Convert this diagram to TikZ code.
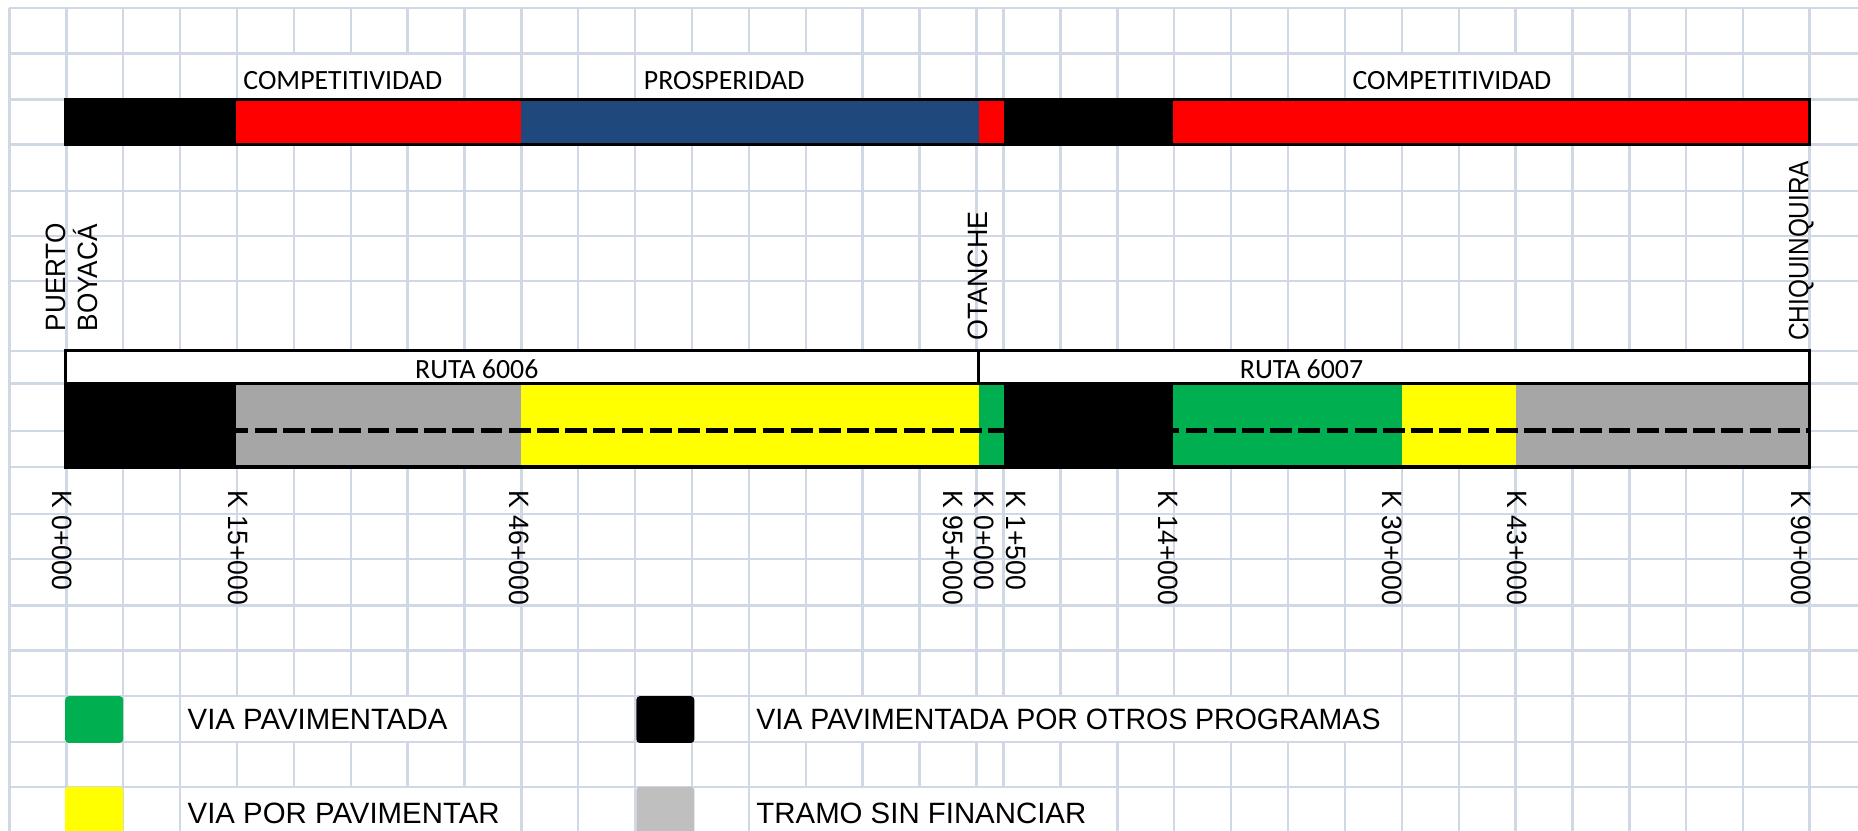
\documentclass[tikz,border=0pt]{standalone}
\usepackage{fontspec}
\setmainfont{Liberation Sans}
\newfontfamily\calfont{Carlito}
\definecolor{gridc}{RGB}{208,215,229}
\definecolor{rojo}{RGB}{255,0,0}
\definecolor{azul}{RGB}{31,73,125}
\definecolor{verde}{RGB}{0,176,80}
\definecolor{amarillo}{RGB}{255,255,0}
\definecolor{grisbar}{RGB}{166,166,166}
\definecolor{grisleg}{RGB}{191,191,191}
\newcommand{\narrowtext}[2]{\scalebox{#1}[1]{#2}}
\tikzset{
  gridline/.style={draw=gridc, line width=1pt},
  cover/.style={fill=white},
  barborder/.style={draw=black, line width=1.4pt},
  rutaborder/.style={draw=black, line width=1.25pt, fill=white},
  dashline/.style={draw=black, line width=2pt, dash pattern=on 9.2pt off 2.7pt, dash phase=3.85pt},
  toplab/.style={font=\calfont\fontsize{11.75}{13}\selectfont, inner sep=0pt, anchor=base west},
  placelab/.style={font=\fontsize{11.8}{13}\selectfont, inner sep=0pt, anchor=base west, rotate=90},
  klab/.style={font=\fontsize{11.8}{13}\selectfont, inner sep=0pt, anchor=base west, rotate=-90},
  leglab/.style={font=\fontsize{12.4}{14}\selectfont, inner sep=0pt, anchor=base west},
  legbox/.style={rounded corners=1.5pt},
}
\begin{document}
\begin{tikzpicture}[x=0.5pt,y=-0.5pt]
\useasboundingbox (0,0) rectangle (1568,701);
\fill[white] (0,0) rectangle (1568,701);
% grid
\foreach \x in {8,56,104,152,200,248,296,344,392,440,488,536,584,632,680,728,776,824,847,895,943,991,1039,1087,1135,1183,1231,1279,1327,1375,1423,1471,1527}
  \draw[gridline] (\x,7) -- (\x,701);
\foreach \y in {7,45,84,122,161,199,237,296,323.5,363.5,394,434,472,511,549,587.5,626,664}
  \draw[gridline] (8,\y) -- (1568,\y);
% white text cells
\fill[cover] (201,46) rectangle (391,83);
\fill[cover] (537,46) rectangle (727,83);
\fill[cover] (1136,46) rectangle (1326,83);
\fill[cover] (153,588.5) rectangle (391,625);
\fill[cover] (633,588.5) rectangle (1182,625);
\fill[cover] (153,665) rectangle (439,701);
\fill[cover] (633,665) rectangle (942,701);
% top bar
\fill[black] (55,84) rectangle (199,122);
\fill[rojo] (199,84) rectangle (440,122);
\fill[azul] (440,84) rectangle (826,122);
\fill[rojo] (826,84) rectangle (847,122);
\fill[black] (847,84) rectangle (990,122);
\fill[rojo] (990,84) rectangle (1527,122);
\draw[barborder] (55,84) rectangle (1527,122);
\node[toplab] (compA) at (205,75.5) {COMPETITIVIDAD};
\node[toplab] (prosp) at (543,75.5) {PROSPERIDAD};
\node[toplab] (compB) at (1141,75.5) {COMPETITIVIDAD};
% place names
\node[placelab] (puerto) at (55,280) {\narrowtext{0.935}{PUERTO}};
\node[placelab] (boyaca) at (82,280) {\narrowtext{0.935}{BOYACÁ}};
\node[placelab] (otanche) at (833,288) {\narrowtext{0.962}{OTANCHE}};
\node[placelab] (chiq) at (1526,288) {\narrowtext{0.871}{CHIQUINQUIRA}};
% ruta box
\draw[rutaborder] (55,296) rectangle (1527,323.5);
\draw[black, line width=1.25pt] (826,296) -- (826,323.5);
\node[toplab] (r6006) at (350,319) {RUTA 6006};
\node[toplab] (r6007) at (1046,319) {RUTA 6007};
% bottom bar
\fill[black] (55,323.5) rectangle (199,394);
\fill[grisbar] (199,323.5) rectangle (440,394);
\fill[amarillo] (440,323.5) rectangle (826,394);
\fill[verde] (826,323.5) rectangle (847,394);
\fill[black] (847,323.5) rectangle (990,394);
\fill[verde] (990,323.5) rectangle (1183,394);
\fill[amarillo] (1183,323.5) rectangle (1279,394);
\fill[grisbar] (1279,323.5) rectangle (1527,394);
\coordinate (dashA) at (199,363.5);
\coordinate (dashB) at (1527,363.5);
\draw[dashline] (dashA) -- (dashB);
\draw[barborder] (55,323.5) rectangle (1527,394);
% kilometre labels
\node[klab] (k1) at (44,413.5) {\narrowtext{0.95}{K 0+000}};
\node[klab] (k2) at (193,413.5) {\narrowtext{0.95}{K 15+000}};
\node[klab] (k3) at (430,413.5) {\narrowtext{0.95}{K 46+000}};
\node[klab] (k4) at (796,413.5) {\narrowtext{0.95}{K 95+000}};
\node[klab] (k5) at (822,413.5) {\narrowtext{0.95}{K 0+000}};
\node[klab] (k6) at (849,413.5) {\narrowtext{0.95}{K 1+500}};
\node[klab] (k7) at (978,413.5) {\narrowtext{0.95}{K 14+000}};
\node[klab] (k8) at (1167,413.5) {\narrowtext{0.95}{K 30+000}};
\node[klab] (k9) at (1272,413.5) {\narrowtext{0.95}{K 43+000}};
\node[klab] (k10) at (1512,413.5) {\narrowtext{0.95}{K 90+000}};
% legend
\fill[verde, legbox] (55,587.5) rectangle (104,627);
\fill[black, legbox] (537,587.5) rectangle (586,627);
\fill[amarillo, legbox] (55,664) rectangle (104,706);
\fill[grisleg, legbox] (537,664) rectangle (586,706);
\node[leglab] (l1) at (158,616) {VIA PAVIMENTADA};
\node[leglab] (l2) at (638,616) {\narrowtext{0.97}{VIA PAVIMENTADA POR OTROS PROGRAMAS}};
\node[leglab] (l3) at (158,695) {VIA POR PAVIMENTAR};
\node[leglab] (l4) at (638,695) {TRAMO SIN FINANCIAR};
\end{tikzpicture}
\end{document}
